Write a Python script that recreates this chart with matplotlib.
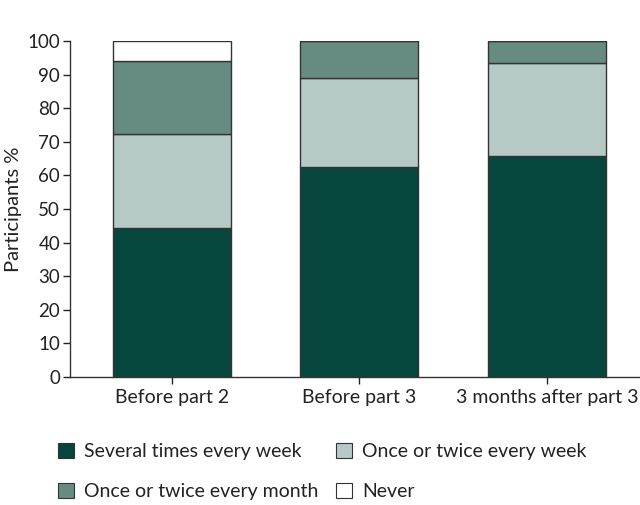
import numpy as np
import matplotlib.pyplot as plt
from matplotlib.patches import Patch

plt.rcParams['font.family'] = ['Lato', 'DejaVu Sans']

# stacked shares per time point (percent of participants)
groups = ["Before part 2", "Before part 3", "3 months after part 3"]
several_weekly = [44.2, 62.6, 65.8]
once_twice_weekly = [28.2, 26.3, 27.6]
once_twice_monthly = [21.7, 11.1, 6.6]
never = [5.9, 0.0, 0.0]

series = [several_weekly, once_twice_weekly, once_twice_monthly, never]
labels = ["Several times every week", "Once or twice every week",
          "Once or twice every month", "Never"]
colors = ["#06463d", "#b5cac7", "#668c82", "#ffffff"]

fig = plt.figure(figsize=(6.4, 5.05), dpi=100)
ax = fig.add_axes([0.109, 0.2535, 0.891, 0.6655])

x = np.arange(len(groups))
bottom = np.zeros(len(groups))
for vals, col in zip(series, colors):
    vals = np.array(vals)
    ax.bar(x, vals, width=0.63, bottom=bottom, color=col,
           edgecolor="#333333", linewidth=1.0, zorder=2)
    bottom += vals

ax.set_xlim(-0.544, 2.496)
ax.set_ylim(0, 100)
ax.set_yticks(np.arange(0, 101, 10))
ax.set_xticks(x)
ax.set_xticklabels(groups)
ax.set_ylabel("Participants %", fontsize=14.5, color="#222222", labelpad=4)
ax.tick_params(axis="y", labelsize=13.5, pad=2)
ax.tick_params(axis="x", labelsize=14)
ax.tick_params(axis="both", colors="#222222", direction="out", length=5, width=1)
for s in ["top", "right"]:
    ax.spines[s].set_visible(False)
for s in ["left", "bottom"]:
    ax.spines[s].set_color("#333333")
    ax.spines[s].set_linewidth(1.0)

# legend fills column-wise, so order handles to read row by row
order = [0, 2, 1, 3]
handles = [Patch(facecolor=colors[i], edgecolor="#333333", linewidth=0.8) for i in order]
fig.legend(handles, [labels[i] for i in order], loc="upper left",
           bbox_to_anchor=(0.063, 0.158), ncol=2, frameon=False, fontsize=14,
           handlelength=0.85, handleheight=0.85, handletextpad=0.5,
           columnspacing=0.9, labelspacing=1.15, labelcolor="#222222")

fig.savefig("out.png", dpi=100)
